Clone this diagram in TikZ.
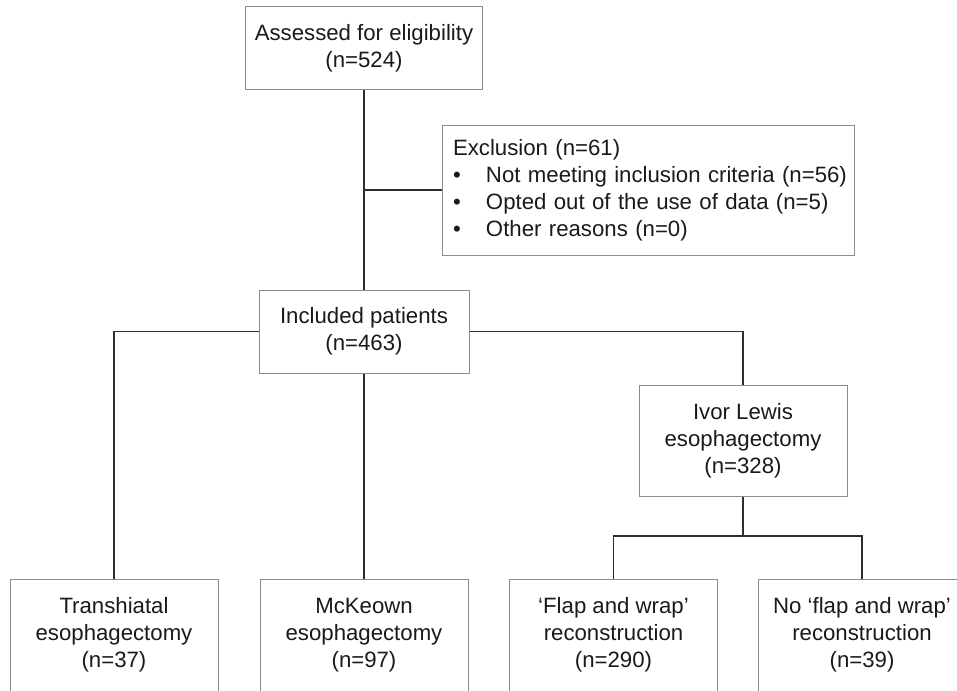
\documentclass[tikz,border=0pt]{standalone}
\usepackage{fontspec}
\setmainfont{Liberation Sans}
\definecolor{boxline}{HTML}{8C8C8C}
\definecolor{conn}{HTML}{2E2E2E}
\definecolor{txt}{HTML}{1A1A1A}
\tikzset{
  box/.style={draw=boxline, line width=1pt, fill=white, align=center, inner sep=0pt,
    text=txt, font=\fontsize{22.2}{27}\selectfont},
  link/.style={draw=conn, line width=1.5pt}
}
\begin{document}
\begin{tikzpicture}[x=1pt,y=-1pt]
\useasboundingbox (0,0) rectangle (957,690);
\clip (0,0) rectangle (957,690);
\fill[white] (0,0) rectangle (957,690);
\node[box, minimum width=237pt, minimum height=83pt] (assessed) at (364,48.5)
  {Assessed for eligibility\\(n=524)};
\node[box, minimum width=412pt, minimum height=130pt, text width=410pt, inner xsep=1pt, align=left] (excl) at (648,190)
  {\hspace*{10pt}Exclusion (n=61)\\
   \makebox[43pt][l]{\hspace*{10pt}\textbullet}Not meeting inclusion criteria (n=56)\\
   \makebox[43pt][l]{\hspace*{10pt}\textbullet}Opted out of the use of data (n=5)\\
   \makebox[43pt][l]{\hspace*{10pt}\textbullet}Other reasons (n=0)};
\node[box, minimum width=210pt, minimum height=83pt] (included) at (364,331.5)
  {Included patients\\(n=463)};
\node[box, minimum width=208pt, minimum height=111pt] (ivor) at (743,440.5)
  {Ivor Lewis\\esophagectomy\\(n=328)};
\node[box, minimum width=208pt, minimum height=112pt] (trans) at (114,635)
  {Transhiatal\\esophagectomy\\(n=37)};
\node[box, minimum width=208pt, minimum height=112pt] (mck) at (364,635)
  {McKeown\\esophagectomy\\(n=97)};
\node[box, minimum width=208pt, minimum height=112pt] (flap) at (613.5,635)
  {`Flap and wrap'\\reconstruction\\(n=290)};
\node[box, minimum width=208pt, minimum height=112pt] (noflap) at (862,635)
  {No `flap and wrap'\\reconstruction\\(n=39)};
\coordinate (exjoin) at (assessed.south |- excl.west);
\coordinate (ivjoin) at (743,536);
\draw[link] (assessed.south) -- (included.north);
\draw[link] (exjoin) -- (excl.west);
\draw[link] (included.west) -| (trans.north);
\draw[link] (included.south) -- (mck.north);
\draw[link] (included.east) -| (ivor.north);
\draw[link] (ivor.south) -- (ivjoin);
\draw[link] (ivjoin) -| (flap.north);
\draw[link] (ivjoin) -| (noflap.north);
\end{tikzpicture}
\end{document}
